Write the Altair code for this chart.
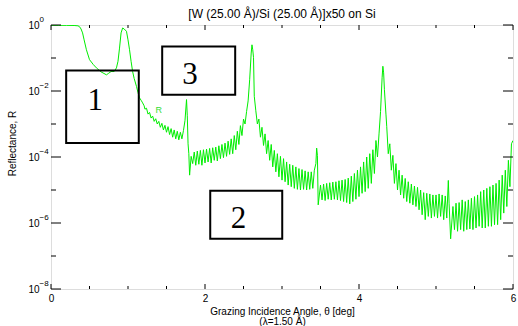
import altair as alt
import pandas as pd

# ---- reflectance curve: grazing angle [deg] and log10(R) ----
theta = [
    0.00, 0.10, 0.20, 0.30, 0.35, 0.37, 0.39, 0.41, 0.43, 0.46,
    0.50, 0.55, 0.59, 0.65, 0.72, 0.75, 0.78, 0.82, 0.85, 0.87,
    0.89, 0.91, 0.93, 0.95, 0.98, 1.00, 1.02, 1.04, 1.06, 1.08,
    1.11, 1.13, 1.15, 1.17, 1.19, 1.21, 1.22, 1.24, 1.26, 1.28,
    1.30, 1.32, 1.34, 1.36, 1.38, 1.40, 1.42, 1.44, 1.46, 1.48,
    1.50, 1.52, 1.54, 1.56, 1.58, 1.60, 1.62, 1.64, 1.66, 1.68,
    1.70, 1.72, 1.74, 1.76, 1.77, 1.78, 1.79, 1.80, 1.82, 1.84,
    1.86, 1.88, 1.90, 1.92, 1.94, 1.96, 1.98, 2.00, 2.02, 2.04,
    2.06, 2.08, 2.10, 2.12, 2.14, 2.16, 2.18, 2.20, 2.22, 2.24,
    2.26, 2.28, 2.30, 2.32, 2.34, 2.36, 2.38, 2.40, 2.42, 2.44,
    2.46, 2.48, 2.50, 2.52, 2.54, 2.56, 2.58, 2.60, 2.61, 2.62,
    2.63, 2.64, 2.66, 2.68, 2.70, 2.72, 2.74, 2.76, 2.78, 2.80,
    2.82, 2.84, 2.86, 2.88, 2.90, 2.92, 2.94, 2.96, 2.98, 3.00,
    3.02, 3.04, 3.06, 3.08, 3.10, 3.12, 3.14, 3.16, 3.18, 3.20,
    3.22, 3.24, 3.26, 3.28, 3.30, 3.32, 3.34, 3.36, 3.38, 3.40,
    3.42, 3.44, 3.45, 3.46, 3.47, 3.50, 3.52, 3.54, 3.56, 3.58,
    3.60, 3.62, 3.64, 3.66, 3.68, 3.70, 3.72, 3.74, 3.76, 3.78,
    3.80, 3.82, 3.84, 3.86, 3.88, 3.90, 3.92, 3.94, 3.96, 3.98,
    4.00, 4.02, 4.04, 4.06, 4.08, 4.10, 4.12, 4.14, 4.16, 4.18,
    4.20, 4.22, 4.24, 4.26, 4.28, 4.30, 4.31, 4.32, 4.33, 4.35,
    4.36, 4.38, 4.40, 4.42, 4.44, 4.46, 4.48, 4.50, 4.52, 4.54,
    4.56, 4.58, 4.60, 4.62, 4.64, 4.66, 4.68, 4.70, 4.72, 4.74,
    4.76, 4.78, 4.80, 4.82, 4.84, 4.86, 4.88, 4.90, 4.92, 4.94,
    4.96, 4.98, 5.00, 5.02, 5.04, 5.06, 5.08, 5.10, 5.12, 5.14,
    5.16, 5.17, 5.19, 5.22, 5.24, 5.26, 5.28, 5.30, 5.32, 5.34,
    5.36, 5.38, 5.40, 5.42, 5.44, 5.46, 5.48, 5.50, 5.52, 5.54,
    5.56, 5.58, 5.60, 5.62, 5.64, 5.66, 5.68, 5.70, 5.72, 5.74,
    5.76, 5.78, 5.80, 5.82, 5.84, 5.86, 5.88, 5.90, 5.92, 5.94,
    5.96, 5.98, 6.00,
]
log_r = [
    -0.01, -0.01, -0.01, -0.015, -0.025, -0.05, -0.12, -0.24, -0.45, -0.75,
    -1.05, -1.20, -1.30, -1.42, -1.51, -1.46, -1.41, -1.41, -1.30, -1.10,
    -0.70, -0.24, -0.09, -0.12, -0.19, -0.45, -0.75, -1.10, -1.41, -1.62,
    -1.86, -2.05, -2.21, -2.28, -2.36, -2.45, -2.55, -2.52, -2.70, -2.65,
    -2.82, -2.76, -2.92, -2.84, -3.00, -2.92, -3.10, -2.98, -3.18, -3.04,
    -3.25, -3.08, -3.32, -3.14, -3.40, -3.18, -3.45, -3.22, -3.48, -3.25,
    -3.45, -3.20, -2.90, -2.26, -2.75, -3.60, -3.90, -4.55, -3.98, -4.20,
    -3.85, -4.25, -3.82, -4.22, -3.80, -4.25, -3.78, -4.18, -3.76, -4.15,
    -3.74, -4.18, -3.72, -4.10, -3.70, -4.12, -3.66, -4.05, -3.62, -4.02,
    -3.58, -3.98, -3.52, -3.92, -3.45, -3.90, -3.35, -3.78, -3.22, -3.62,
    -3.05, -3.35, -2.85, -3.00, -2.62, -2.30, -1.66, -0.85, -0.60, -0.75,
    -0.98, -2.16, -2.60, -3.00, -2.85, -3.40, -3.10, -3.65, -3.30, -3.90,
    -3.50, -4.10, -3.62, -4.30, -3.80, -4.45, -3.90, -4.60, -3.98, -4.70,
    -4.05, -4.75, -4.15, -4.85, -4.22, -4.90, -4.25, -4.95, -4.30, -4.98,
    -4.35, -5.00, -4.38, -4.98, -4.42, -5.00, -4.45, -4.98, -4.45, -4.95,
    -4.40, -4.20, -3.73, -3.95, -5.45, -4.85, -5.30, -4.82, -5.32, -4.80,
    -5.28, -4.78, -5.30, -4.76, -5.28, -4.75, -5.30, -4.72, -5.32, -4.70,
    -5.35, -4.68, -5.38, -4.64, -5.42, -4.58, -5.35, -4.50, -5.28, -4.40,
    -5.20, -4.30, -5.10, -4.15, -5.05, -4.00, -4.95, -3.90, -4.80, -3.78,
    -4.50, -3.50, -4.00, -3.30, -2.62, -1.60, -1.25, -1.45, -1.96, -2.70,
    -3.07, -3.90, -3.60, -4.40, -3.95, -4.80, -4.20, -5.00, -4.40, -5.15,
    -4.55, -5.25, -4.65, -5.35, -4.75, -5.40, -4.82, -5.45, -4.88, -5.50,
    -4.92, -5.60, -5.00, -5.75, -5.08, -5.90, -5.10, -5.80, -5.12, -5.85,
    -5.15, -5.80, -5.15, -5.85, -5.12, -5.80, -5.15, -5.90, -5.18, -5.85,
    -4.71, -5.40, -6.48, -5.50, -6.20, -5.40, -6.25, -5.38, -6.20, -5.30,
    -6.25, -5.35, -6.20, -5.30, -6.18, -5.25, -6.20, -5.20, -6.15, -5.15,
    -6.10, -5.05, -6.15, -5.00, -6.15, -4.95, -6.10, -4.90, -6.10, -4.85,
    -6.05, -4.80, -6.05, -4.70, -5.90, -4.55, -5.70, -4.40, -5.50, -4.10,
    -4.90, -3.60, -3.50,
]
assert len(theta) == len(log_r)

# ---- axis tick values ----
x_major_ticks = [0, 2, 4, 6]
x_minor_ticks = [0.5, 1, 1.5, 2.5, 3, 3.5, 4.5, 5, 5.5]
y_major_ticks = [1, 1e-2, 1e-4, 1e-6, 1e-8]
y_minor_ticks = [1e-1, 1e-3, 1e-5, 1e-7]

# ---- annotation boxes ("1", "3", "2") and the small curve tag ----
box_labels = ["1", "3", "2"]
box_x0 = [0.197, 1.444, 2.068]
box_x1 = [1.140, 2.392, 3.003]
box_top_exp = [-1.376, -0.648, -5.020]
box_bottom_exp = [-3.576, -2.112, -6.480]
label_x = [0.574, 1.805, 2.435]
label_exp = [-2.294, -1.506, -5.870]

tag_text = ["R"]
tag_x = [1.40]
tag_exp = [-2.57]

curve = pd.DataFrame({"theta": theta, "R": [10 ** v for v in log_r]})
boxes = pd.DataFrame({
    "x0": box_x0, "x1": box_x1,
    "y0": [10 ** v for v in box_top_exp],
    "y1": [10 ** v for v in box_bottom_exp],
    "lx": label_x, "ly": [10 ** v for v in label_exp],
    "label": box_labels,
})
tag = pd.DataFrame({"x": tag_x, "y": [10 ** v for v in tag_exp], "t": tag_text})

W, H = 462, 264
FONT = "Liberation Sans"

x_scale = alt.Scale(domain=[0, 6], nice=False, zero=False)
y_scale = alt.Scale(type="log", domain=[1e-8, 1], nice=False)

x_axis = alt.Axis(
    values=x_major_ticks,
    ticks=False, domain=False, grid=False,
    format="d",
    labelFont=FONT, labelFontSize=10, labelColor="black",
    labelPadding=4, labelFlush=False, labelOverlap=False,
    title=["Grazing Incidence Angle, \u03b8 [deg]", "(\u03bb=1.50 \u00c5)"],
    titleFont=FONT, titleFontSize=10, titleFontWeight="normal", titleColor="black",
    titlePadding=3, titleLineHeight=10,
)

EXP = "round(log(datum.value)/LN10)"
y_axis = alt.Axis(
    orient="left",
    values=y_major_ticks,
    ticks=False, domain=False, grid=False,
    labelExpr="'10'",
    labelFont=FONT, labelFontSize=10, labelColor="black",
    labelPadding=12, labelOverlap=False, labelFlush=False,
    title="Reflectance, R",
    titleFont=FONT, titleFontSize=10, titleFontWeight="normal", titleColor="black",
    titleX=-39, titleY=118, titleAlign="center", titleBaseline="middle", titleAngle=270,
)

# exponent labels drawn as a second left axis, raised and smaller
y_exp_axis = alt.Axis(
    orient="left",
    values=y_major_ticks,
    ticks=False, domain=False, grid=False,
    labelExpr=f"{EXP} == 0 ? '0' : '\u2212' + format(-{EXP}, 'd')",
    labelFont=FONT, labelFontSize=8, labelColor="black",
    labelAlign="left", labelPadding=12, labelOffset=-6,
    labelOverlap=False, labelFlush=False,
    title=None,
)

line = alt.Chart(curve).mark_line(color="#00ee00", strokeWidth=1, clip=True).encode(
    x=alt.X("theta:Q", scale=x_scale, axis=x_axis),
    y=alt.Y("R:Q", scale=y_scale, axis=y_axis),
)

exp_layer = alt.Chart(curve).mark_line(opacity=0, clip=True).encode(
    x=alt.X("theta:Q", scale=x_scale),
    y=alt.Y("R:Q", scale=y_scale, axis=y_exp_axis),
)


# inward tick marks on all four sides (positions from the scales, lengths are style)
def x_ticks(values, length):
    df = pd.DataFrame({"v": values})
    base = alt.Chart(df).mark_rule(color="black", strokeWidth=1)
    bottom = base.encode(x=alt.X("v:Q", scale=x_scale), y=alt.value(H), y2=alt.value(H - length))
    top = base.encode(x=alt.X("v:Q", scale=x_scale), y=alt.value(0), y2=alt.value(length))
    return [bottom, top]


def y_ticks(values, length):
    df = pd.DataFrame({"v": values})
    base = alt.Chart(df).mark_rule(color="black", strokeWidth=1)
    left = base.encode(y=alt.Y("v:Q", scale=y_scale, axis=None), x=alt.value(0), x2=alt.value(length))
    right = base.encode(y=alt.Y("v:Q", scale=y_scale, axis=None), x=alt.value(W), x2=alt.value(W - length))
    return [left, right]


tick_layers = (x_ticks(x_major_ticks, 5) + x_ticks(x_minor_ticks, 3)
               + y_ticks(y_major_ticks, 10) + y_ticks(y_minor_ticks, 5))

rects = alt.Chart(boxes).mark_rect(
    fillOpacity=0, stroke="black", strokeWidth=2
).encode(
    x=alt.X("x0:Q", scale=x_scale),
    x2="x1:Q",
    y=alt.Y("y0:Q", scale=y_scale, axis=None),
    y2="y1:Q",
)

digits = alt.Chart(boxes).mark_text(
    font="Liberation Serif", fontSize=31, color="black", align="center", baseline="middle"
).encode(
    x=alt.X("lx:Q", scale=x_scale),
    y=alt.Y("ly:Q", scale=y_scale, axis=None),
    text="label:N",
)

tag_mark = alt.Chart(tag).mark_text(
    font=FONT, fontSize=9, color="#33dd33", align="center", baseline="middle"
).encode(
    x=alt.X("x:Q", scale=x_scale),
    y=alt.Y("y:Q", scale=y_scale, axis=None),
    text="t:N",
)

chart = alt.layer(line, exp_layer, *tick_layers, rects, digits, tag_mark).resolve_axis(
    y="independent"
).properties(
    width=W, height=H,
    title=alt.TitleParams(
        text="[W (25.00 \u00c5)/Si (25.00 \u00c5)]x50 on Si",
        font=FONT, fontSize=12, fontWeight="normal", color="black",
        anchor="middle", offset=-1, dy=5,
    ),
    autosize=alt.AutoSizeParams(type="none"),
    padding={"left": 51, "top": 25, "right": 5, "bottom": 37},
).configure_view(
    stroke="black", strokeWidth=1
).configure(background="white")

chart.save("out.html", embed_options={"renderer": "svg", "actions": False})
